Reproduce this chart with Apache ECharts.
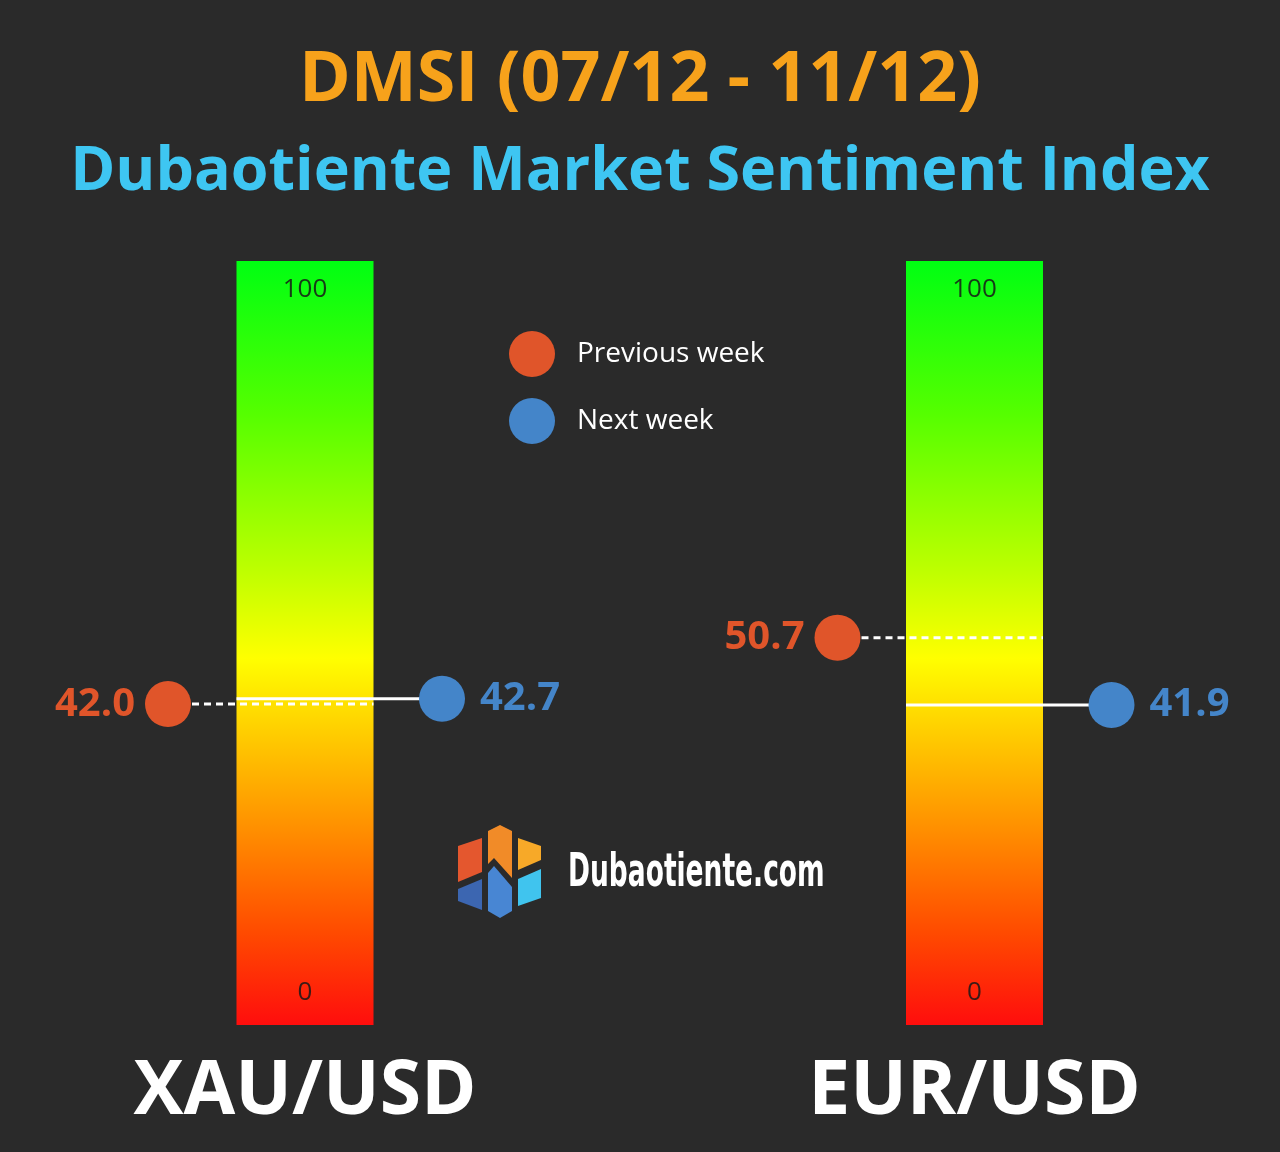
<!DOCTYPE html>
<html>
<head>
<meta charset="utf-8">
<script src="https://cdn.jsdelivr.net/npm/echarts@6/dist/echarts.min.js"></script>
<style>
  html, body { margin: 0; padding: 0; background: #2a2a2a; }
  #chart { width: 1280px; height: 1152px; }
</style>
</head>
<body>
<div id="chart"></div>
<script>
// ---- data ----
const instruments = ['XAU/USD', 'EUR/USD'];
const previousWeek = [42.0, 50.7];
const nextWeek = [42.7, 41.9];
const scaleTicks = [0, 100];
const slots = ['Previous week', 'Instrument', 'Next week'];

// ---- style ----
const BG = '#2a2a2a';
const ORANGE = '#e0552a';
const BLUE = '#4485c9';
const FONT = '"Open Sans", "Noto Sans", sans-serif';

const chart = echarts.init(document.getElementById('chart'), null, { renderer: 'canvas' });

const barGradient = new echarts.graphic.LinearGradient(0, 0, 0, 1, [
  { offset: 0.00, color: '#00ff12' },
  { offset: 0.20, color: '#55ff00' },
  { offset: 0.40, color: '#bbff00' },
  { offset: 0.52, color: '#ffff00' },
  { offset: 0.62, color: '#ffcc00' },
  { offset: 0.75, color: '#ff8c00' },
  { offset: 0.88, color: '#ff4a00' },
  { offset: 1.00, color: '#ff0d0d' }
]);

const grids = [
  { left: 99.5, width: 411, top: 261, height: 764 },
  { left: 769, width: 411, top: 261, height: 764 }
];

const xAxes = instruments.map((name, i) => ({
  type: 'category',
  gridIndex: i,
  data: slots.map((s, k) => (k === 1 ? name : s)),
  axisLine: { show: false },
  axisTick: { show: false },
  axisLabel: {
    interval: 0,
    margin: 30,
    color: '#ffffff',
    fontFamily: FONT,
    fontWeight: 'bold',
    fontSize: 75,
    lineHeight: 75,
    formatter: (v, idx) => (idx === 1 ? v : '')
  }
}));

const yAxes = instruments.map((name, i) => ({
  type: 'value',
  gridIndex: i,
  min: 0,
  max: 100,
  show: false
}));

const series = [];
instruments.forEach((name, i) => {
  // gradient gauge bar with connector lines
  series.push({
    type: 'custom',
    xAxisIndex: i,
    yAxisIndex: i,
    z: 1,
    silent: true,
    data: [[1, previousWeek[i], nextWeek[i]]],
    renderItem: function (params, api) {
      const top = api.coord([api.value(0), 100]);
      const bottom = api.coord([api.value(0), 0]);
      const w = api.size([1, 0])[0];
      const prevPt = api.coord([0, api.value(1)]);
      const nextPt = api.coord([2, api.value(2)]);
      return {
        type: 'group',
        children: [
          {
            type: 'rect',
            shape: { x: top[0] - w / 2, y: top[1], width: w, height: bottom[1] - top[1] },
            style: { fill: barGradient }
          },
          {
            type: 'line',
            shape: { x1: prevPt[0], y1: prevPt[1], x2: top[0] + w / 2, y2: prevPt[1] },
            style: { stroke: '#ffffff', lineWidth: 3, lineDash: [7, 5] }
          },
          {
            type: 'line',
            shape: { x1: top[0] - w / 2, y1: nextPt[1], x2: nextPt[0], y2: nextPt[1] },
            style: { stroke: '#ffffff', lineWidth: 3 }
          }
        ]
      };
    }
  });
  // scale labels inside bar
  series.push({
    type: 'custom',
    xAxisIndex: i,
    yAxisIndex: i,
    z: 2,
    silent: true,
    data: scaleTicks.map(v => [1, v]),
    renderItem: function (params, api) {
      const v = api.value(1);
      const p = api.coord([1, v]);
      return {
        type: 'text',
        x: p[0],
        y: p[1] + (v >= 50 ? 29 : -32),
        style: {
          text: String(v),
          fill: 'rgba(25,25,25,0.85)',
          font: '26px ' + FONT,
          align: 'center',
          verticalAlign: 'middle'
        }
      };
    }
  });
  // previous week marker
  series.push({
    name: 'Previous week',
    type: 'scatter',
    xAxisIndex: i,
    yAxisIndex: i,
    z: 5,
    symbol: 'circle',
    symbolSize: 46,
    itemStyle: { color: ORANGE, opacity: 1 },
    data: [[0, previousWeek[i]]],
    label: {
      show: true,
      position: 'left',
      distance: 10,
      formatter: p => p.value[1].toFixed(1),
      color: ORANGE,
      fontFamily: FONT,
      fontWeight: 'bold',
      fontSize: 40
    }
  });
  // next week marker
  series.push({
    name: 'Next week',
    type: 'scatter',
    xAxisIndex: i,
    yAxisIndex: i,
    z: 5,
    symbol: 'circle',
    symbolSize: 46,
    itemStyle: { color: BLUE, opacity: 1 },
    data: [[2, nextWeek[i]]],
    label: {
      show: true,
      position: 'right',
      distance: 15,
      formatter: p => p.value[1].toFixed(1),
      color: BLUE,
      fontFamily: FONT,
      fontWeight: 'bold',
      fontSize: 40
    }
  });
});

// logo icon polygons (decoration)
const logoPieces = [
  { c: '#e4572e', p: [[458, 846], [482, 838], [482, 872], [458, 882]] },
  { c: '#3c66b1', p: [[458, 889], [482, 879], [482, 910], [458, 901]] },
  { c: '#f18b28', p: [[488, 831], [500, 825], [512, 831], [512, 878], [494, 858], [488, 864]] },
  { c: '#4886d3', p: [[488, 873], [494, 866], [512, 887], [512, 911], [500, 918], [488, 911]] },
  { c: '#f7a928', p: [[518, 838], [541, 846], [541, 860], [518, 870]] },
  { c: '#40c4ee', p: [[518, 879], [541, 869], [541, 898], [518, 906]] }
];

const option = {
  backgroundColor: BG,
  animation: false,
  title: [
    {
      text: 'DMSI (07/12 - 11/12)',
      left: 'center',
      top: 41,
      textStyle: { color: '#f7a21b', fontFamily: FONT, fontWeight: 'bold', fontSize: 70, lineHeight: 70 }
    },
    {
      text: 'Dubaotiente Market Sentiment Index',
      left: 'center',
      top: 137,
      textStyle: { color: '#3ec6f2', fontFamily: FONT, fontWeight: 'bold', fontSize: 61, lineHeight: 61 }
    }
  ],
  legend: {
    data: ['Previous week', 'Next week'],
    orient: 'vertical',
    left: 504,
    top: 326,
    itemWidth: 46,
    itemHeight: 46,
    itemGap: 21,
    icon: 'circle',
    selectedMode: false,
    textStyle: { color: '#ffffff', fontFamily: FONT, fontSize: 28, padding: [0, 0, 0, 17] }
  },
  grid: grids,
  xAxis: xAxes,
  yAxis: yAxes,
  series: series,
  graphic: [
    {
      type: 'group',
      silent: true,
      children: logoPieces.map(pc => ({
        type: 'polygon',
        shape: { points: pc.p },
        style: { fill: pc.c }
      })).concat([
        {
          type: 'text',
          x: 568,
          y: 874,
          scaleX: 0.64,
          style: {
            text: 'Dubaotiente.com',
            fill: '#ffffff',
            font: 'bold 46px "Liberation Sans Narrow", "DejaVu Sans Condensed", sans-serif',
            verticalAlign: 'middle',
            align: 'left'
          }
        }
      ])
    }
  ]
};

chart.setOption(option);
</script>
</body>
</html>
